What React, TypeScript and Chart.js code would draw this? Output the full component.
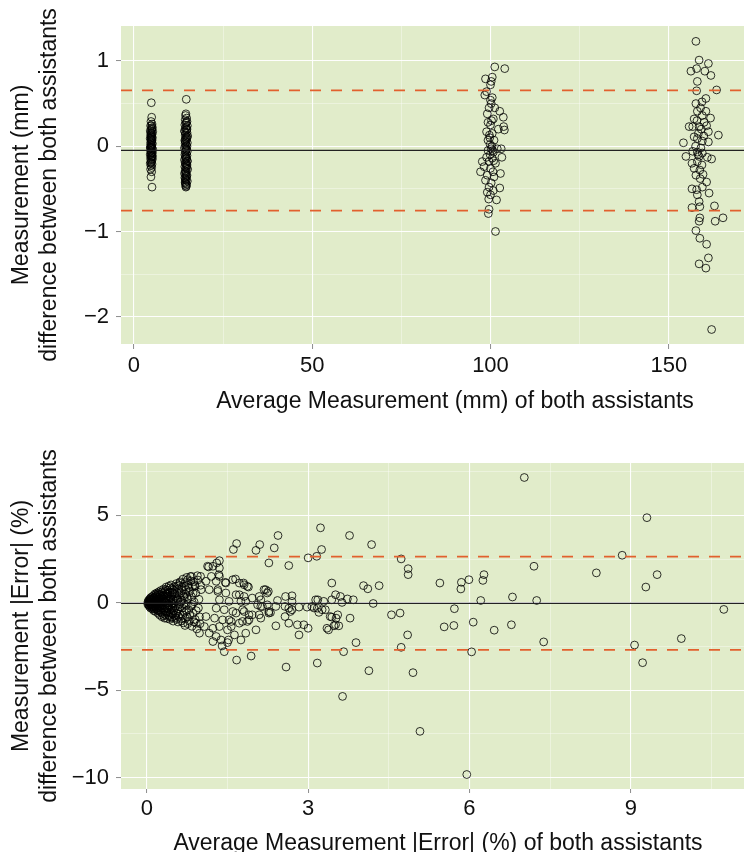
import React, { useEffect, useRef } from 'react';
import { Chart, registerables } from 'chart.js';
Chart.register(...registerables);

type Pt = [number, number];

// ---------- Top panel (mm) ----------
const topXRange: [number, number] = [-3.6, 183.7];
const topYRange: [number, number] = [-2.32, 1.41];
const topXTicks = [0, 25, 50, 75, 100, 125, 150, 175];
const topXMajor = [0, 50, 100, 150];
const topYTicks = [-2, -1.5, -1, -0.5, 0, 0.5, 1];
const topYMajor = [-2, -1, 0, 1];
const topMean = -0.05;
const topLimits = [0.655, -0.755];
const topXTitle = 'Average Measurement (mm) of both assistants';
const topYTitle = ['Measurement (mm)', 'difference between both assistants'];

const topCluster1: Pt[] = [
  [4.9, 0.51], [5.0, 0.34], [4.8, 0.29], [5.1, 0.26], [4.7, 0.24], [5.2, 0.22], [4.9, 0.21], [5.0, 0.19],
  [4.6, 0.18], [5.3, 0.17], [4.8, 0.16], [5.1, 0.14], [4.7, 0.13], [5.0, 0.12], [4.9, 0.11], [5.2, 0.1],
  [4.6, 0.09], [4.8, 0.08], [5.1, 0.07], [4.9, 0.06], [5.0, 0.05], [4.7, 0.04], [5.2, 0.03], [4.8, 0.02],
  [5.0, 0.01], [4.9, 0.0], [4.6, -0.01], [5.1, -0.02], [4.8, -0.03], [5.3, -0.04], [4.9, -0.05], [4.7, -0.06],
  [5.0, -0.07], [5.2, -0.08], [4.8, -0.09], [4.6, -0.1], [5.1, -0.11], [4.9, -0.12], [5.0, -0.13], [4.7, -0.14],
  [5.2, -0.15], [4.8, -0.16], [5.0, -0.17], [4.9, -0.19], [4.6, -0.2], [5.1, -0.21], [4.8, -0.23], [5.0, -0.25],
  [4.7, -0.27], [5.0, -0.3], [4.8, -0.36], [5.1, -0.48], [4.9, 0.15], [5.0, -0.01], [4.8, 0.1], [5.1, 0.2],
  [4.7, -0.02], [5.0, 0.08], [4.9, -0.08], [5.2, -0.12], [4.8, -0.19], [5.0, 0.24],
];

const topCluster2: Pt[] = [
  [14.7, 0.55], [14.6, 0.38], [14.5, 0.36], [14.8, 0.33], [14.4, 0.31], [14.9, 0.29], [14.6, 0.27], [14.3, 0.25],
  [15.0, 0.24], [14.7, 0.22], [14.5, 0.21], [14.8, 0.19], [14.2, 0.18], [14.9, 0.16], [14.6, 0.15], [14.4, 0.13],
  [15.1, 0.12], [14.7, 0.11], [14.5, 0.09], [14.8, 0.08], [14.3, 0.07], [14.6, 0.05], [15.0, 0.04], [14.4, 0.03],
  [14.7, 0.01], [14.9, 0.0], [14.5, -0.01], [14.2, -0.02], [14.8, -0.04], [14.6, -0.05], [15.0, -0.06], [14.4, -0.07],
  [14.7, -0.09], [14.3, -0.1], [14.9, -0.11], [14.5, -0.12], [14.8, -0.14], [14.6, -0.15], [14.2, -0.16], [15.0, -0.17],
  [14.4, -0.19], [14.7, -0.2], [14.5, -0.21], [14.9, -0.22], [14.3, -0.24], [14.6, -0.25], [14.8, -0.26], [15.1, -0.27],
  [14.4, -0.29], [14.7, -0.3], [14.5, -0.31], [14.2, -0.32], [14.9, -0.34], [14.6, -0.35], [14.8, -0.36], [14.3, -0.37],
  [14.5, -0.39], [14.7, -0.4], [15.0, -0.41], [14.4, -0.42], [14.6, -0.44], [14.8, -0.45], [14.5, -0.46], [14.7, -0.47],
  [14.6, -0.48], [14.9, 0.2], [14.4, 0.06], [14.7, -0.03], [14.5, -0.13], [14.8, -0.23], [14.6, -0.33], [14.4, -0.43],
  [14.9, 0.1], [14.3, 0.17], [14.7, 0.28], [15.0, -0.18], [14.5, -0.38],
];

const topCluster3: Pt[] = [
  [101.2, 0.93], [104.0, 0.91], [98.6, 0.79], [100.5, 0.81], [100.2, 0.76], [100.0, 0.72], [98.9, 0.64], [100.0, 0.54],
  [100.5, 0.57], [100.2, 0.5], [99.6, 0.45], [99.1, 0.38], [102.6, 0.41], [103.6, 0.34], [100.8, 0.32], [99.3, 0.28],
  [100.0, 0.25], [103.7, 0.23], [103.9, 0.19], [98.9, 0.17], [99.7, 0.13], [100.5, 0.15], [99.3, 0.07], [101.0, 0.07],
  [99.9, 0.02], [100.2, -0.03], [99.3, -0.05], [100.8, -0.07], [99.9, -0.1], [101.9, -0.03], [98.9, -0.13], [100.5, -0.14],
  [97.7, -0.18], [99.6, -0.18], [101.4, -0.2], [98.2, -0.24], [100.0, -0.26], [102.8, -0.32], [97.2, -0.3], [99.1, -0.34],
  [101.0, -0.36], [98.6, -0.4], [100.2, -0.43], [99.6, -0.48], [102.6, -0.49], [100.8, -0.52], [99.1, -0.54], [100.0, -0.57],
  [101.7, -0.63], [99.6, -0.74], [99.4, -0.79], [101.4, -1.0], [103.2, -0.13], [103.0, -0.03], [100.4, 0.0], [100.6, -0.05],
  [99.8, 0.1], [100.9, -0.17], [100.3, 0.3], [98.4, 0.6], [101.2, 0.45], [100.7, -0.3], [99.5, -0.62], [102.2, 0.2],
];

const topCluster4: Pt[] = [
  [157.6, 1.23], [158.5, 1.01], [161.1, 0.97], [156.2, 0.88], [157.8, 0.91], [160.1, 0.88], [161.8, 0.83], [158.0, 0.76],
  [157.8, 0.65], [163.4, 0.66], [160.4, 0.56], [159.3, 0.52], [157.6, 0.5], [158.9, 0.45], [158.0, 0.41], [160.4, 0.41],
  [159.4, 0.36], [161.7, 0.33], [157.1, 0.32], [159.9, 0.28], [155.7, 0.23], [156.7, 0.23], [158.5, 0.23], [160.6, 0.24],
  [161.1, 0.17], [163.9, 0.13], [157.1, 0.11], [158.0, 0.09], [159.4, 0.06], [161.1, 0.05], [154.1, 0.04], [156.7, -0.06],
  [158.0, -0.07], [159.4, -0.08], [154.8, -0.12], [158.5, -0.12], [160.8, -0.13], [162.0, -0.15], [156.5, -0.2], [158.0, -0.18],
  [159.3, -0.22], [157.1, -0.26], [158.7, -0.28], [157.6, -0.34], [159.6, -0.33], [160.6, -0.42], [156.5, -0.5], [157.8, -0.51],
  [159.4, -0.48], [161.3, -0.55], [158.0, -0.57], [158.5, -0.65], [156.5, -0.72], [158.7, -0.71], [162.8, -0.7], [165.2, -0.84],
  [163.0, -0.88], [158.5, -0.88], [158.7, -0.84], [157.6, -0.99], [158.7, -1.08], [160.6, -1.15], [161.1, -1.31], [158.5, -1.38],
  [160.4, -1.43], [162.0, -2.15], [158.3, 0.15], [159.0, -0.02], [158.2, -0.1], [159.1, 0.2], [157.5, 0.0], [158.8, -0.38],
  [159.8, 0.12], [157.9, 0.3],
];

// ---------- Bottom panel (|Error| %) ----------
const botXRange: [number, number] = [-0.48, 11.31];
const botYRange: [number, number] = [-10.66, 8.0];
const botXTicks = [0, 1.5, 3, 4.5, 6, 7.5, 9, 10.5];
const botXMajor = [0, 3, 6, 9];
const botYTicks = [-10, -7.5, -5, -2.5, 0, 2.5, 5, 7.5];
const botYMajor = [-10, -5, 0, 5];
const botMean = -0.03;
const botLimits = [2.64, -2.7];
const botXTitle = 'Average Measurement |Error| (%) of both assistants';
const botYTitle = ['Measurement |Error| (%)', 'difference between both assistants'];

const botCore: Pt[] = [
  [0.02, 0.04], [0.03, -0.06], [0.03, 0.12], [0.04, -0.14], [0.04, 0.0], [0.05, 0.2], [0.05, -0.22], [0.06, 0.08],
  [0.06, -0.04], [0.07, 0.28], [0.07, -0.3], [0.08, 0.14], [0.08, -0.12], [0.09, 0.02], [0.09, 0.33], [0.1, -0.2],
  [0.1, 0.06], [0.1, -0.35], [0.11, 0.24], [0.11, -0.08], [0.12, 0.4], [0.12, -0.28], [0.13, 0.1], [0.13, -0.45],
  [0.14, 0.3], [0.14, -0.02], [0.15, 0.5], [0.15, -0.18], [0.16, 0.15], [0.16, -0.5], [0.17, 0.36], [0.17, -0.34],
  [0.18, 0.02], [0.18, 0.55], [0.19, -0.12], [0.19, 0.22], [0.2, -0.42], [0.2, 0.44], [0.21, -0.6], [0.21, 0.08],
  [0.22, 0.62], [0.22, -0.25], [0.23, 0.3], [0.23, -0.05], [0.24, -0.7], [0.24, 0.48], [0.25, 0.15], [0.25, -0.38],
  [0.26, 0.7], [0.26, -0.15], [0.27, -0.55], [0.27, 0.35], [0.28, 0.0], [0.28, -0.8], [0.29, 0.55], [0.29, -0.3],
  [0.3, 0.2], [0.3, -0.62], [0.31, 0.78], [0.31, -0.1], [0.32, -0.45], [0.32, 0.42], [0.33, 0.05], [0.33, -0.88],
  [0.34, 0.65], [0.34, -0.22], [0.35, 0.28], [0.35, -0.7], [0.36, -0.02], [0.36, 0.9], [0.37, -0.5], [0.37, 0.5],
  [0.38, 0.15], [0.38, -0.9], [0.39, 0.72], [0.39, -0.3], [0.4, -0.12], [0.4, 0.38], [0.41, -0.75], [0.41, 0.95],
  [0.42, 0.1], [0.42, -0.4], [0.43, 0.6], [0.43, -0.95], [0.44, 0.25], [0.44, -0.15], [0.45, 1.02], [0.45, -0.6],
  [0.46, 0.45], [0.46, -0.05], [0.47, -0.85], [0.47, 0.8], [0.48, 0.15], [0.48, -0.3], [0.49, -1.05], [0.49, 0.55],
  [0.5, 0.0], [0.5, -0.5], [0.51, 0.92], [0.52, -0.72], [0.53, 0.35], [0.54, -0.2], [0.55, 1.1], [0.55, -0.95],
  [0.56, 0.6], [0.57, -0.45], [0.58, 0.15], [0.58, -1.1], [0.59, 0.8], [0.6, -0.1], [0.6, 0.45], [0.61, -0.65],
  [0.62, 1.2], [0.63, 0.05], [0.64, -0.9], [0.65, 0.7], [0.66, -0.3], [0.67, 1.35], [0.68, -1.15], [0.69, 0.3],
  [0.7, -0.55], [0.7, 0.95], [0.71, -1.3], [0.72, 0.5], [0.73, -0.15], [0.74, 1.45], [0.75, -0.8], [0.76, 0.2],
  [0.77, 1.0], [0.78, -0.4], [0.79, -1.05], [0.8, 0.65], [0.81, 1.5], [0.82, -0.2], [0.83, 0.35], [0.84, -1.35],
  [0.85, 0.9], [0.86, -0.6], [0.87, 1.2], [0.88, 0.05], [0.9, -0.95], [0.91, 0.55], [0.93, -1.5], [0.94, 1.55],
  [0.96, -0.3], [0.97, 0.2], [0.99, -1.2], [1.0, 1.0], [0.61, 1.13], [0.76, 1.32], [0.89, 1.03], [0.83, 1.51],
  [0.92, -1.17], [0.98, -1.74],
  [0.04, 0.09], [0.06, -0.16], [0.08, 0.22], [0.09, -0.24], [0.11, 0.12], [0.12, -0.14], [0.13, 0.28], [0.14, -0.36],
  [0.15, 0.06], [0.16, -0.26], [0.17, 0.46], [0.18, -0.06], [0.19, 0.32], [0.2, -0.3], [0.21, 0.52], [0.22, -0.48],
  [0.23, 0.18], [0.24, -0.2], [0.25, 0.4], [0.26, -0.5], [0.27, 0.1], [0.28, 0.62], [0.29, -0.12], [0.3, 0.42],
  [0.31, -0.75], [0.32, 0.22], [0.33, -0.32], [0.34, 0.1], [0.35, 0.75], [0.36, -0.55], [0.37, 0.35], [0.38, -0.18],
  [0.39, 0.58], [0.4, -0.68], [0.41, 0.22], [0.42, -0.25], [0.43, 0.85], [0.44, -0.82], [0.45, 0.32], [0.46, -0.4],
  [0.47, 0.6], [0.48, -0.65], [0.49, 0.2], [0.5, 0.75], [0.51, -0.3], [0.52, 0.5], [0.53, -0.85], [0.54, 0.1],
  [0.55, -0.6], [0.56, 0.95], [0.57, 0.25], [0.58, -0.35], [0.59, -0.78], [0.6, 1.0], [0.62, -0.25], [0.63, 0.55],
  [0.64, -1.05], [0.65, 0.15], [0.66, 0.9], [0.67, -0.7], [0.68, 0.4], [0.69, -0.05], [0.71, 1.15], [0.72, -0.9],
  [0.73, 0.75], [0.74, -0.45], [0.75, 0.35], [0.76, -1.2], [0.78, 0.85], [0.8, -0.7], [0.82, 1.25], [0.84, -0.1],
  [0.86, 0.55], [0.88, -1.1], [0.9, 0.95], [0.92, -0.45], [0.95, 1.3], [0.98, -0.8], [0.02, -0.1], [0.05, 0.02],
  [0.07, -0.08], [0.06, 0.16],
];

const botMid: Pt[] = [
  [1.15, 2.05], [1.3, 2.28], [1.35, 2.41], [1.2, 1.51], [1.34, 1.61], [1.0, 1.51], [1.1, 1.23], [1.29, 1.23],
  [1.46, 1.17], [1.65, 1.36], [1.8, 1.13], [1.89, 0.9], [2.18, 0.75], [1.01, 0.75], [1.16, 0.75], [1.32, 0.75],
  [1.47, 0.56], [1.66, 0.46], [1.81, 0.36], [1.96, 0.27], [1.35, 0.17], [1.53, 0.08], [1.75, 0.08], [2.12, 0.17],
  [2.24, -0.12], [2.4, -0.21], [1.29, -0.31], [1.44, -0.4], [1.6, -0.5], [1.81, -0.5], [1.96, -0.69], [2.12, -0.88],
  [2.27, -0.59], [1.1, -0.79], [1.26, -0.88], [1.41, -0.98], [1.57, -1.07], [1.72, -1.17], [1.87, -1.07], [2.03, -1.55],
  [2.4, -1.32], [1.07, -1.36], [1.23, -1.46], [1.35, -1.36], [1.5, -1.55], [1.16, -1.74], [1.29, -1.93], [1.23, -2.22],
  [1.38, -2.13], [1.5, -2.28], [1.63, -1.84], [1.75, -2.13], [1.4, -2.47], [1.44, -2.8], [1.67, -3.28], [1.94, -3.05],
  [2.27, 2.28], [2.37, 3.14], [2.44, 3.85], [2.1, 3.33], [2.03, 3.0], [1.67, 3.39], [1.61, 3.05], [1.72, 0.46],
  [1.6, 1.32], [1.72, 1.13], [1.81, 1.03], [1.87, 0.94], [2.06, -0.12], [2.15, -0.22], [2.3, -0.56], [1.9, -0.69],
  [1.78, -0.4], [1.66, -0.59], [1.78, -1.07], [1.9, -0.98], [1.84, -1.74], [1.57, -1.36], [1.53, -0.98], [1.35, 1.51],
  [1.23, 2.09], [1.35, 1.99], [1.13, 2.09], [1.32, 0.65], [1.47, 1.13], [2.21, 0.75], [2.26, 0.65], [2.09, 0.36],
  [1.84, 0.08], [1.52, -2.13], [2.09, -0.69], [2.27, -0.5], [2.43, 0.13], [2.12, -0.21], [2.24, 0.56],
];

const botWide: Pt[] = [
  [2.64, 2.13], [2.57, -0.79], [2.83, -1.84], [2.92, -1.26], [3.0, -1.46], [2.8, -1.26], [2.64, -1.17], [2.7, -0.4],
  [2.58, 0.36], [2.7, 0.4], [3.11, -0.3], [3.18, 0.17], [3.29, 0.08], [3.32, -0.4], [3.2, -0.55], [3.41, -0.79],
  [3.35, -1.46], [3.51, -1.26], [3.38, -1.55], [3.0, 2.57], [3.16, 2.66], [3.23, 4.29], [3.25, 3.05], [3.77, 3.85],
  [3.44, 1.13], [3.51, 0.46], [3.6, 0.36], [3.73, 0.22], [3.84, 0.17], [4.03, 0.98], [4.11, 0.8], [4.18, 3.33],
  [3.78, -0.88], [3.66, -2.8], [3.89, -2.28], [4.13, -3.89], [3.64, -5.36], [3.17, -3.45], [2.59, -3.68], [4.73, 2.51],
  [4.86, 1.95], [4.86, 1.61], [4.32, 0.98], [3.63, 0.02], [4.21, -0.04], [4.55, -0.69], [4.71, -0.59], [3.44, -0.82],
  [3.57, -1.32], [3.48, -1.32], [4.85, -1.84], [4.73, -2.55], [4.95, -4.0], [5.08, -7.36], [5.95, -9.83], [7.02, 7.17],
  [9.3, 4.87], [8.84, 2.72], [7.2, 2.09], [8.36, 1.71], [9.49, 1.61], [9.28, 0.9], [5.45, 1.13], [5.85, 1.17],
  [5.84, 0.79], [5.99, 1.32], [6.27, 1.61], [6.25, 1.28], [6.21, 0.13], [6.8, 0.33], [7.25, 0.13], [10.73, -0.38],
  [5.72, -0.34], [5.53, -1.38], [5.71, -1.3], [6.07, -1.11], [6.46, -1.57], [6.78, -1.26], [7.38, -2.24], [6.04, -2.81],
  [9.07, -2.42], [9.94, -2.05], [9.22, -3.43], [3.17, -0.31], [3.52, -0.88], [3.55, -0.69], [3.44, 0.17], [3.14, 0.17],
  [3.07, -0.21], [2.98, -0.25], [2.83, -0.25], [2.7, 0.08], [2.64, -0.31], [2.67, -0.5], [2.57, -0.21], [3.26, -0.4],
];

// ---------- Styling ----------
const FONT = '"Liberation Sans", Arial, Helvetica, sans-serif';
const PANEL_BG = '#e1ecca';
const LIMIT_COLOR = '#e2602e';
const TEXT = '#111111';

const bgPlugin = {
  id: 'panelBg',
  beforeDraw(chart: any) {
    const { ctx, chartArea: a } = chart;
    ctx.save();
    ctx.fillStyle = PANEL_BG;
    ctx.fillRect(a.left, a.top, a.right - a.left, a.bottom - a.top);
    ctx.restore();
  },
};

const fmt = (v: number) => (v < 0 ? '\u2212' + Math.abs(v) : String(v));

interface PanelSpec {
  xRange: [number, number];
  yRange: [number, number];
  xTicks: number[];
  xMajor: number[];
  yTicks: number[];
  yMajor: number[];
  mean: number;
  limits: number[];
  points: Pt[];
  xTitle: string;
  yTitle: string[];
  padTop: number;
  xAxisHeight: number;
  xTickPad: number;
  xTickLen: number;
  xTitlePadBottom: number;
}

function buildConfig(p: PanelSpec): any {
  const hline = (y: number) => [
    { x: p.xRange[0], y },
    { x: p.xRange[1], y },
  ];
  const gridColor = (major: number[]) => (c: any) =>
    c.tick && major.includes(c.tick.value) ? 'rgba(255,255,255,0.95)' : 'rgba(255,255,255,0.6)';
  const gridWidth = (major: number[]) => (c: any) => (c.tick && major.includes(c.tick.value) ? 1.1 : 0.6);
  const tickColor = (major: number[]) => (c: any) =>
    c.tick && major.includes(c.tick.value) ? '#8c8c8c' : 'rgba(0,0,0,0)';

  return {
    type: 'scatter',
    data: {
      datasets: [
        {
          type: 'line',
          data: hline(p.mean),
          borderColor: '#222222',
          borderWidth: 1.3,
          pointRadius: 0,
          fill: false,
        },
        {
          type: 'line',
          data: hline(p.limits[0]),
          borderColor: LIMIT_COLOR,
          borderWidth: 1.8,
          borderDash: [11, 10],
          pointRadius: 0,
          fill: false,
        },
        {
          type: 'line',
          data: hline(p.limits[1]),
          borderColor: LIMIT_COLOR,
          borderWidth: 1.8,
          borderDash: [11, 10],
          pointRadius: 0,
          fill: false,
        },
        {
          type: 'scatter',
          data: p.points.map(([x, y]) => ({ x, y })),
          pointStyle: 'circle',
          pointRadius: 3.9,
          borderWidth: 1,
          borderColor: 'rgba(0,0,0,0.8)',
          backgroundColor: 'rgba(0,0,0,0)',
        },
      ],
    },
    options: {
      animation: false,
      responsive: false,
      devicePixelRatio: 1,
      layout: { padding: { top: p.padTop, left: 0, right: 0, bottom: 0 } },
      plugins: { legend: { display: false }, tooltip: { enabled: false } },
      scales: {
        x: {
          type: 'linear',
          min: p.xRange[0],
          max: p.xRange[1],
          afterBuildTicks: (s: any) => {
            s.ticks = p.xTicks.map((v) => ({ value: v }));
          },
          afterFit: (s: any) => {
            s.height = p.xAxisHeight;
          },
          ticks: {
            autoSkip: false,
            maxRotation: 0,
            padding: p.xTickPad,
            color: TEXT,
            font: { family: FONT, size: 22 },
            callback: (v: number) => (p.xMajor.includes(v) ? fmt(v) : ''),
          },
          grid: {
            color: gridColor(p.xMajor),
            lineWidth: gridWidth(p.xMajor),
            tickLength: p.xTickLen,
            tickColor: tickColor(p.xMajor),
            tickWidth: 1,
          },
          border: { display: false },
          title: {
            display: true,
            text: p.xTitle,
            color: TEXT,
            font: { family: FONT, size: 23, lineHeight: 1.2 },
            padding: { top: 0, bottom: p.xTitlePadBottom },
          },
        },
        y: {
          type: 'linear',
          min: p.yRange[0],
          max: p.yRange[1],
          afterBuildTicks: (s: any) => {
            s.ticks = p.yTicks.map((v) => ({ value: v }));
          },
          afterFit: (s: any) => {
            s.width = 121;
          },
          ticks: {
            autoSkip: false,
            padding: 7,
            color: TEXT,
            font: { family: FONT, size: 22 },
            callback: (v: number) => (p.yMajor.includes(v) ? fmt(v) : ''),
          },
          grid: {
            color: gridColor(p.yMajor),
            lineWidth: gridWidth(p.yMajor),
            tickLength: 5,
            tickColor: tickColor(p.yMajor),
            tickWidth: 1,
          },
          border: { display: false },
          title: {
            display: true,
            text: p.yTitle,
            color: TEXT,
            font: { family: FONT, size: 23, lineHeight: 28 / 23 },
            padding: { top: 8, bottom: 0 },
          },
        },
      },
    },
    plugins: [bgPlugin],
  };
}

const topSpec: PanelSpec = {
  xRange: topXRange,
  yRange: topYRange,
  xTicks: topXTicks,
  xMajor: topXMajor,
  yTicks: topYTicks,
  yMajor: topYMajor,
  mean: topMean,
  limits: topLimits,
  points: [...topCluster1, ...topCluster2, ...topCluster3, ...topCluster4],
  xTitle: topXTitle,
  yTitle: topYTitle,
  padTop: 26,
  xAxisHeight: 76,
  xTickPad: 4,
  xTickLen: 5,
  xTitlePadBottom: 5,
};

const botSpec: PanelSpec = {
  xRange: botXRange,
  yRange: botYRange,
  xTicks: botXTicks,
  xMajor: botXMajor,
  yTicks: botYTicks,
  yMajor: botYMajor,
  mean: botMean,
  limits: botLimits,
  points: [...botCore, ...botMid, ...botWide],
  xTitle: botXTitle,
  yTitle: botYTitle,
  padTop: 43,
  xAxisHeight: 71,
  xTickPad: 3,
  xTickLen: 4,
  xTitlePadBottom: 3,
};

function Panel({ spec, top, width, height }: { spec: PanelSpec; top: number; width: number; height: number }) {
  const ref = useRef<HTMLCanvasElement | null>(null);
  useEffect(() => {
    if (!ref.current) return;
    const chart = new Chart(ref.current, buildConfig(spec));
    return () => chart.destroy();
  }, [spec]);
  return (
    <canvas
      ref={ref}
      width={width}
      height={height}
      style={{ position: 'absolute', left: 0, top, width, height, display: 'block' }}
    />
  );
}

export default function App() {
  return (
    <div
      style={{
        position: 'absolute',
        left: 0,
        top: 0,
        width: 744,
        height: 852,
        overflow: 'hidden',
        background: '#ffffff',
      }}
    >
      <Panel spec={topSpec} top={0} width={794} height={420} />
      <Panel spec={botSpec} top={420} width={760} height={440} />
    </div>
  );
}
